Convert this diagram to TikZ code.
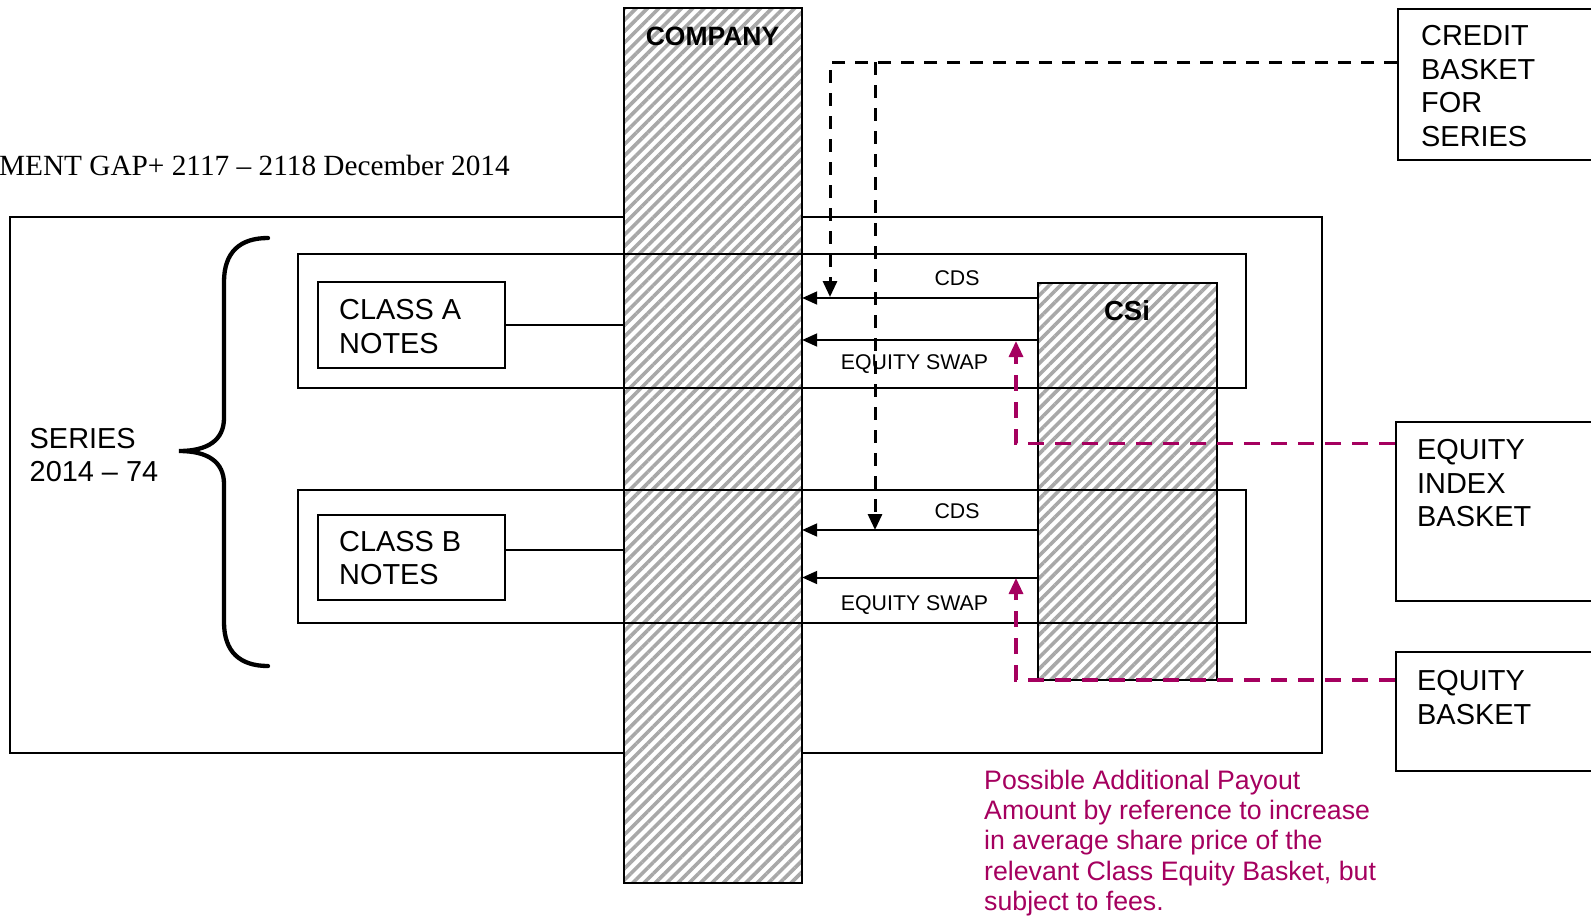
\documentclass[tikz,border=0pt]{standalone}
\usepackage{fontspec}
\setmainfont{Liberation Sans}
\newfontfamily\headserif{Liberation Serif}
\usetikzlibrary{arrows.meta,patterns.meta}
\definecolor{payoutc}{RGB}{165,0,95}
\definecolor{hatchgray}{RGB}{168,168,168}
\tikzset{
  box/.style={draw=black, line width=2pt, inner sep=0pt, rectangle},
  hatched/.style={rectangle, inner sep=0pt, fill=white, postaction={pattern={Lines[angle=45,distance=8pt,line width=3.6pt]}, pattern color=hatchgray}, postaction={draw=black, line width=2pt}},
  lbl/.style={inner sep=0pt, font=\fontsize{28.9}{33.5}\selectfont, align=left, anchor=north west},
  small/.style={inner sep=0pt, font=\fontsize{21.3}{25}\selectfont},
  boldlbl/.style={inner sep=0pt, font=\bfseries\fontsize{26.5}{30}\selectfont},
  flow/.style={line width=2pt, -{Triangle[length=15pt,width=13pt]}},
  plain/.style={line width=2pt},
  credit/.style={line width=3pt, dash pattern=on 13pt off 10pt, -{Triangle[length=16pt,width=14pt]}},
  payout/.style={draw=payoutc, line width=3.2pt, dash pattern=on 16pt off 11pt, -{Triangle[length=16pt,width=14pt]}},
  brace/.style={line width=4.3pt, line cap=round},
  note/.style={inner sep=0pt, text=payoutc, font=\fontsize{26.7}{30.4}\selectfont, align=left, anchor=north west}
}
\begin{document}
\begin{tikzpicture}[x=1pt,y=-1pt]
\useasboundingbox (0,0) rectangle (1591,916);
\clip (0,0) rectangle (1591,916);

% header
\node[anchor=base east, inner sep=0pt, font=\headserif\fontsize{29.3}{34}\selectfont] (hdr) at (510,175) {MENT GAP+ 2117 – 2118 December 2014};

% boxes
\node[box, minimum width=1312pt, minimum height=536pt] (outer) at (666,485) {};
\node[hatched, minimum width=178pt, minimum height=875pt] (company) at (713,445.5) {};
\node[hatched, minimum width=179pt, minimum height=397pt] (csi) at (1127.5,481.5) {};
\node[box, minimum width=948pt, minimum height=134pt] (rowA) at (772,321) {};
\node[box, minimum width=948pt, minimum height=133pt] (rowB) at (772,556.5) {};
\node[box, minimum width=187pt, minimum height=86pt] (notesA) at (411.5,325) {};
\node[box, minimum width=187pt, minimum height=85pt] (notesB) at (411.5,557.5) {};
\node[box, minimum width=260pt, minimum height=151pt] (credit) at (1528,84) {};
\node[box, minimum width=260pt, minimum height=179pt] (eqidx) at (1526,511.5) {};
\node[box, minimum width=260pt, minimum height=119pt] (eqb) at (1526,711.5) {};

% brace
\draw[brace] (268,238) .. controls (240,238) and (224,252) .. (224,282) -- (224,418) .. controls (224,440) and (208,451) .. (179,451) .. controls (208,451) and (224,462) .. (224,484) -- (224,622) .. controls (224,652) and (240,666) .. (268,666);

% coordinates
\coordinate (nB) at (505,550);
\coordinate (cdsAy) at (0,298);
\coordinate (eqAy) at (0,340);
\coordinate (cdsBy) at (0,530);
\coordinate (eqBy) at (0,577.5);
\coordinate (crTop) at (830,62);
\coordinate (crTipA) at (830,297);
\coordinate (crTopB) at (875,62);
\coordinate (crTipB) at (875,530);
\coordinate (pyA) at (1016,443.5);
\coordinate (pyTipA) at (1016,341);
\coordinate (pyB) at (1016,680);
\coordinate (pyTipB) at (1016,578);

% notes to company
\draw[plain] (notesA.east) -- (notesA.east -| company.west);
\draw[plain] (nB) -- (nB -| company.west);

% swaps
\draw[flow] (csi.west |- cdsAy) -- (company.east |- cdsAy);
\draw[flow] (csi.west |- eqAy) -- (company.east |- eqAy);
\draw[flow] (csi.west |- cdsBy) -- (company.east |- cdsBy);
\draw[flow] (csi.west |- eqBy) -- (company.east |- eqBy);

% credit basket dashed
\draw[credit] (credit.west |- crTop) -- (crTop) -- (crTipA);
\draw[credit] (crTopB) -- (crTipB);

% equity dashed
\draw[payout] (eqidx.west |- pyA) -- (pyA) -- (pyTipA);
\draw[payout] (eqb.west |- pyB) -- (pyB) -- (pyTipB);

% labels
\node[boldlbl] (companyT) at (712.5,36) {COMPANY};
\node[inner sep=0pt, font=\bfseries\fontsize{27.5}{30}\selectfont] (csiT) at (1127,311) {CSi};
\node[small] (cdsAT) at (957,278) {CDS};
\node[small] (eqAT) at (914.5,364.5) {EQUITY SWAP};
\node[small] (cdsBT) at (957,511) {CDS};
\node[small] (eqBT) at (914.5,605) {EQUITY SWAP};
\node[lbl] (notesAT) at (339,299.5) {CLASS A\\NOTES};
\node[lbl] (notesBT) at (339,531) {CLASS B\\NOTES};
\node[lbl] (seriesT) at (29.5,428) {SERIES\\2014 – 74};
\node[lbl] (creditT) at (1421,25.5) {CREDIT\\BASKET\\FOR\\SERIES};
\node[lbl] (eqidxT) at (1417,439.5) {EQUITY\\INDEX\\BASKET};
\node[lbl] (eqbT) at (1417,670.5) {EQUITY\\BASKET};
\node[note] (payoutT) at (984,769.5) {Possible Additional Payout\\Amount by reference to increase\\in average share price of the\\relevant Class Equity Basket, but\\subject to fees.};
\end{tikzpicture}
\end{document}
